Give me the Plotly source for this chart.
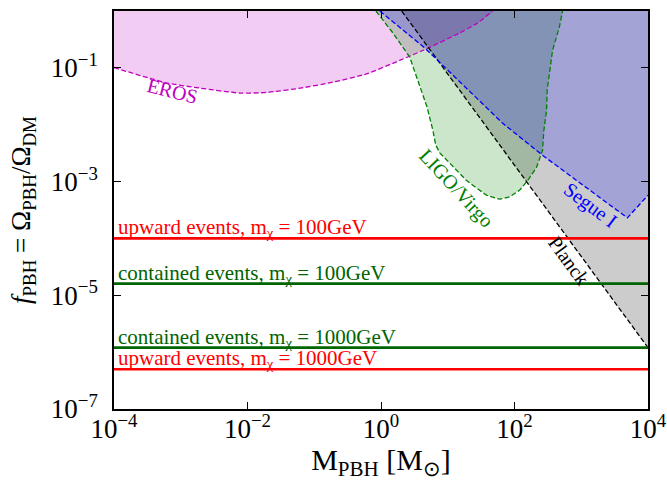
import numpy as np
import plotly.graph_objects as go

# ---------------- data ----------------
eros_M = [1e-4, 6.3e-4, 1.95e-3, 7.8e-3, 0.0195, 0.062, 0.19, 0.62, 1.9, 4.3, 15, 27, 47]
eros_f = [0.101, 0.054, 0.044, 0.036, 0.037, 0.044, 0.056, 0.079, 0.135, 0.204, 0.41, 0.60, 1.0]

ligo_M = [0.84, 1.51, 2.69, 4.9, 6.0, 6.6, 7.6, 19, 38, 60, 85, 120, 158, 214, 263, 275, 302, 309, 372, 468, 525]
ligo_f = [1.0, 0.41, 0.155, 0.0204, 0.0079, 0.0044, 0.0032, 0.00105, 5.75e-4, 4.9e-4, 5.4e-4, 7.1e-4,
          1.05e-3, 1.78e-3, 3.55e-3, 7.9e-3, 0.0178, 0.041, 0.204, 0.51, 1.0]

segue_M = [0.96, 4.6, 66, 263, 4900, 9300, 1e4]
segue_f = [1.0, 0.22, 0.0107, 0.0029, 2.3e-4, 5.4e-4, 5.75e-4]

planck_M = [2.04, 1e4]
planck_f = [1.0, 1.2e-6]

line_M = [1e-4, 1e4]
upward_f = {"100GeV": 1e-4, "1000GeV": 5e-7}
contained_f = {"100GeV": 1.6e-5, "1000GeV": 1.2e-6}

x_tickvals = [1e-4, 1e-2, 1e0, 1e2, 1e4]
x_ticktext = ["10<sup>−4</sup>", "10<sup>−2</sup>", "10<sup>0</sup>", "10<sup>2</sup>", "10<sup>4</sup>"]
y_tickvals = [1e-7, 1e-5, 1e-3, 1e-1]
y_ticktext = ["10<sup>−7</sup>", "10<sup>−5</sup>", "10<sup>−3</sup>", "10<sup>−1</sup>"]

X_MIN, X_MAX, Y_TOP = 1e-4, 1e4, 1.0

FONT = "Liberation Serif"
MAG = "rgb(191,0,191)"
GRN = "rgb(0,128,0)"
BLU = "rgb(0,0,255)"
DASH = "5px,2.5px"

fig = go.Figure()

# filled regions
fig.add_trace(go.Scatter(x=eros_M + [X_MIN], y=eros_f + [Y_TOP], fill="toself",
                         fillcolor="rgba(191,0,191,0.2)", line=dict(width=0, shape="spline", smoothing=0.6),
                         mode="lines", hoverinfo="skip"))
fig.add_trace(go.Scatter(x=ligo_M, y=ligo_f, fill="toself",
                         fillcolor="rgba(0,128,0,0.2)", line=dict(width=0), mode="lines", hoverinfo="skip"))
fig.add_trace(go.Scatter(x=planck_M + [X_MAX], y=planck_f + [Y_TOP], fill="toself",
                         fillcolor="rgba(0,0,0,0.2)", line=dict(width=0), mode="lines", hoverinfo="skip"))
fig.add_trace(go.Scatter(x=segue_M + [X_MAX], y=segue_f + [Y_TOP], fill="toself",
                         fillcolor="rgba(0,0,255,0.2)", line=dict(width=0), mode="lines", hoverinfo="skip"))

# dashed boundaries
fig.add_trace(go.Scatter(x=eros_M, y=eros_f, mode="lines", line=dict(color=MAG, width=1.3, dash=DASH, shape="spline", smoothing=0.6)))
fig.add_trace(go.Scatter(x=ligo_M, y=ligo_f, mode="lines", line=dict(color=GRN, width=1.3, dash=DASH)))
fig.add_trace(go.Scatter(x=planck_M, y=planck_f, mode="lines", line=dict(color="black", width=1.3, dash=DASH)))
fig.add_trace(go.Scatter(x=segue_M, y=segue_f, mode="lines", line=dict(color=BLU, width=1.3, dash=DASH)))

# horizontal lines
fig.add_trace(go.Scatter(x=line_M, y=[upward_f["100GeV"]] * 2, mode="lines", line=dict(color="red", width=2.7)))
fig.add_trace(go.Scatter(x=line_M, y=[contained_f["100GeV"]] * 2, mode="lines", line=dict(color="darkgreen", width=2.7)))
fig.add_trace(go.Scatter(x=line_M, y=[contained_f["1000GeV"]] * 2, mode="lines", line=dict(color="darkgreen", width=2.7)))
fig.add_trace(go.Scatter(x=line_M, y=[upward_f["1000GeV"]] * 2, mode="lines", line=dict(color="red", width=2.7)))

HL = 21
def hlabel(text, yval, color):
    fig.add_annotation(x=np.log10(X_MIN), y=np.log10(yval), text=text, showarrow=False,
                       xanchor="left", yanchor="bottom", xshift=2, yshift=-5,
                       font=dict(family=FONT, size=HL, color=color))

hlabel("upward events, m<sub>χ</sub> = 100GeV", upward_f["100GeV"], "red")
hlabel("contained events, m<sub>χ</sub> = 100GeV", contained_f["100GeV"], "darkgreen")
hlabel("contained events, m<sub>χ</sub> = 1000GeV", contained_f["1000GeV"], "darkgreen")
hlabel("upward events, m<sub>χ</sub> = 1000GeV", upward_f["1000GeV"], "red")

RL = 20
def rlabel(text, lx, ly, ang, color):
    fig.add_annotation(x=lx, y=ly, text=text, showarrow=False, textangle=ang,
                       font=dict(family=FONT, size=RL, color=color))

rlabel("EROS", -3.12, -1.40, 14, MAG)
rlabel("LIGO/Virgo", 1.13, -3.12, 47, GRN)
rlabel("Segue I", 3.14, -3.42, 37, BLU)
rlabel("Planck", 2.81, -4.38, 54, "black")

axis_common = dict(type="log", ticks="inside", ticklen=7, tickwidth=1.3, tickcolor="black",
                   showline=True, linewidth=1.5, linecolor="black", mirror="ticks",
                   showgrid=False, zeroline=False, ticklabeloverflow="allow",
                   tickfont=dict(family=FONT, size=27, color="black"))

fig.update_xaxes(range=[-4, 4], tickvals=x_tickvals, ticktext=x_ticktext, ticklabelstandoff=-5,
                 title=dict(text="M<sub>PBH</sub> [M<sub>⊙</sub>]", font=dict(family=FONT, size=30), standoff=4),
                 **axis_common)
fig.update_yaxes(range=[-7, 0], tickvals=y_tickvals, ticktext=y_ticktext, ticklabelstandoff=9,
                 title=dict(text="<i>f</i><sub>PBH</sub> = Ω<sub>PBH</sub>/Ω<sub>DM</sub>", font=dict(family=FONT, size=27), standoff=12),
                 **axis_common)

fig.update_layout(width=667, height=481, margin=dict(l=114, r=19, t=11, b=72, autoexpand=False),
                  plot_bgcolor="white", paper_bgcolor="white", showlegend=False, hovermode=False,
                  font=dict(family=FONT, color="black"))

# remove the default 8px page margin so the figure fills the window exactly
fig.write_html("out.html", config={"displayModeBar": False},
               post_script="document.body.style.margin='0px';")
